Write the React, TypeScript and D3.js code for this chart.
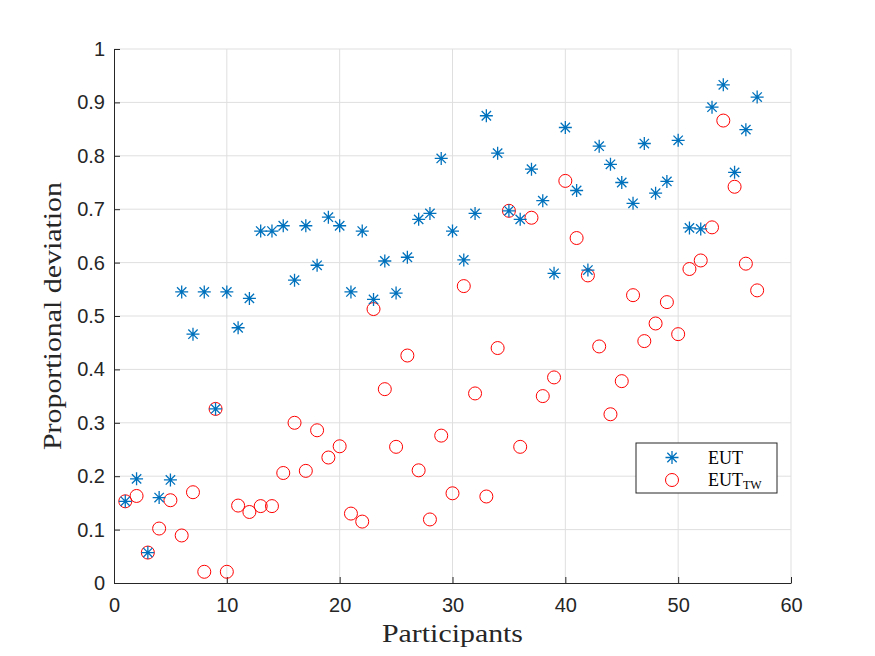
import { useEffect, useRef } from 'react'
import * as d3 from 'd3'

const eut = [
  0.153, 0.195, 0.057, 0.160, 0.193, 0.545, 0.466, 0.545, 0.326, 0.545,
  0.478, 0.533, 0.659, 0.659, 0.669, 0.567, 0.669, 0.595, 0.685, 0.669,
  0.545, 0.659, 0.531, 0.603, 0.543, 0.610, 0.681, 0.692, 0.795, 0.659,
  0.605, 0.692, 0.875, 0.805, 0.697, 0.681, 0.775, 0.716, 0.580, 0.853,
  0.735, 0.586, 0.818, 0.784, 0.750, 0.711, 0.823, 0.730, 0.752, 0.829,
  0.665, 0.663, 0.891, 0.933, 0.769, 0.849, 0.910,
]

const eutTw = [
  0.153, 0.163, 0.057, 0.102, 0.155, 0.089, 0.170, 0.021, 0.326, 0.021,
  0.145, 0.133, 0.144, 0.144, 0.206, 0.300, 0.210, 0.286, 0.235, 0.256,
  0.130, 0.115, 0.513, 0.363, 0.255, 0.426, 0.211, 0.119, 0.276, 0.168,
  0.556, 0.355, 0.162, 0.440, 0.697, 0.255, 0.684, 0.350, 0.385, 0.753,
  0.646, 0.576, 0.443, 0.316, 0.378, 0.539, 0.453, 0.486, 0.526, 0.466,
  0.588, 0.604, 0.666, 0.866, 0.742, 0.598, 0.548,
]

const xTicks = [0, 10, 20, 30, 40, 50, 60]
const yTicks = [0, 0.1, 0.2, 0.3, 0.4, 0.5, 0.6, 0.7, 0.8, 0.9, 1]

const width = 875
const height = 656
const margin = { top: 49, right: 84, bottom: 73, left: 114 }

const blue = '#0072BD'
const red = '#FF0000'
const axisColor = '#262626'
const serif = '"Liberation Serif", "DejaVu Serif", serif'

function starPath(r: number) {
  const d = r * 0.72
  return `M${-r},0L${r},0M0,${-r}L0,${r}M${-d},${-d}L${d},${d}M${-d},${d}L${d},${-d}`
}

export default function App() {
  const svgRef = useRef<SVGSVGElement>(null)

  useEffect(() => {
    if (!svgRef.current) return
    const svg = d3.select(svgRef.current)
    svg.selectAll('*').remove()

    const iw = width - margin.left - margin.right
    const ih = height - margin.top - margin.bottom

    const x = d3.scaleLinear().domain([0, 60]).range([0, iw])
    const y = d3.scaleLinear().domain([0, 1]).range([ih, 0])

    const g = svg.append('g')
      .attr('transform', `translate(${margin.left},${margin.top})`)

    // grid
    g.append('g').selectAll('line')
      .data(xTicks.slice(1))
      .enter().append('line')
      .attr('x1', d => x(d)).attr('x2', d => x(d))
      .attr('y1', 0).attr('y2', ih)
      .style('stroke', '#dfdfdf').style('stroke-width', 1)
    g.append('g').selectAll('line')
      .data(yTicks.slice(1))
      .enter().append('line')
      .attr('x1', 0).attr('x2', iw)
      .attr('y1', d => y(d)).attr('y2', d => y(d))
      .style('stroke', '#dfdfdf').style('stroke-width', 1)

    // axes
    const xAxis = g.append('g')
      .attr('transform', `translate(0,${ih})`)
      .call(d3.axisBottom(x).tickValues(xTicks).tickSizeInner(-6).tickSizeOuter(0).tickPadding(15))
    const yAxis = g.append('g')
      .call(d3.axisLeft(y).tickValues(yTicks).tickFormat(d3.format('')).tickSizeInner(-6).tickSizeOuter(0).tickPadding(9))

    for (const ax of [xAxis, yAxis]) {
      ax.select('.domain').style('stroke', axisColor).style('stroke-width', 1)
      ax.selectAll('.tick line').style('stroke', axisColor)
      ax.selectAll('.tick text')
        .style('fill', axisColor)
        .style('font-family', '"Liberation Sans", Arial, sans-serif')
        .style('font-size', '20px')
    }

    // circles
    g.append('g').selectAll('circle')
      .data(eutTw)
      .enter().append('circle')
      .attr('cx', (_, i) => x(i + 1))
      .attr('cy', d => y(d))
      .attr('r', 6.5)
      .style('fill', 'none')
      .style('stroke', red)
      .style('stroke-width', 1)

    // stars
    g.append('g').selectAll('path')
      .data(eut)
      .enter().append('path')
      .attr('transform', (d, i) => `translate(${x(i + 1)},${y(d)})`)
      .attr('d', starPath(6.5))
      .style('fill', 'none')
      .style('stroke', blue)
      .style('stroke-width', 1.3)

    // axis titles
    svg.append('text')
      .attr('x', margin.left + iw / 2)
      .attr('y', 642)
      .attr('text-anchor', 'middle')
      .attr('textLength', 141)
      .attr('lengthAdjust', 'spacingAndGlyphs')
      .style('font-family', serif)
      .style('font-size', '26px')
      .style('fill', axisColor)
      .text('Participants')

    svg.append('text')
      .attr('transform', `translate(61,${margin.top + ih / 2}) rotate(-90)`)
      .attr('text-anchor', 'middle')
      .attr('textLength', 268)
      .attr('lengthAdjust', 'spacingAndGlyphs')
      .style('font-family', serif)
      .style('font-size', '26px')
      .style('fill', axisColor)
      .text('Proportional deviation')

    // legend
    const lg = svg.append('g').attr('transform', 'translate(636,443)')
    lg.append('rect')
      .attr('width', 141).attr('height', 50)
      .style('fill', '#fff').style('stroke', axisColor).style('stroke-width', 1)
    lg.append('path')
      .attr('transform', 'translate(36,14.5)')
      .attr('d', starPath(6.5))
      .style('fill', 'none').style('stroke', blue).style('stroke-width', 1.3)
    lg.append('circle')
      .attr('cx', 36).attr('cy', 37).attr('r', 6.5)
      .style('fill', 'none').style('stroke', red).style('stroke-width', 1)
    lg.append('text')
      .attr('x', 72).attr('y', 21)
      .style('font-family', serif).style('font-size', '18px').style('fill', '#000')
      .text('EUT')
    const t2 = lg.append('text')
      .attr('x', 72).attr('y', 43)
      .style('font-family', serif).style('font-size', '18px').style('fill', '#000')
    t2.append('tspan').text('EUT')
    t2.append('tspan').attr('dy', 3).style('font-size', '12px').text('TW')
  }, [])

  return (
    <svg
      ref={svgRef}
      width={width}
      height={height}
      style={{ display: 'block', position: 'absolute', left: 0, top: 0, background: '#fff' }}
    />
  )
}
